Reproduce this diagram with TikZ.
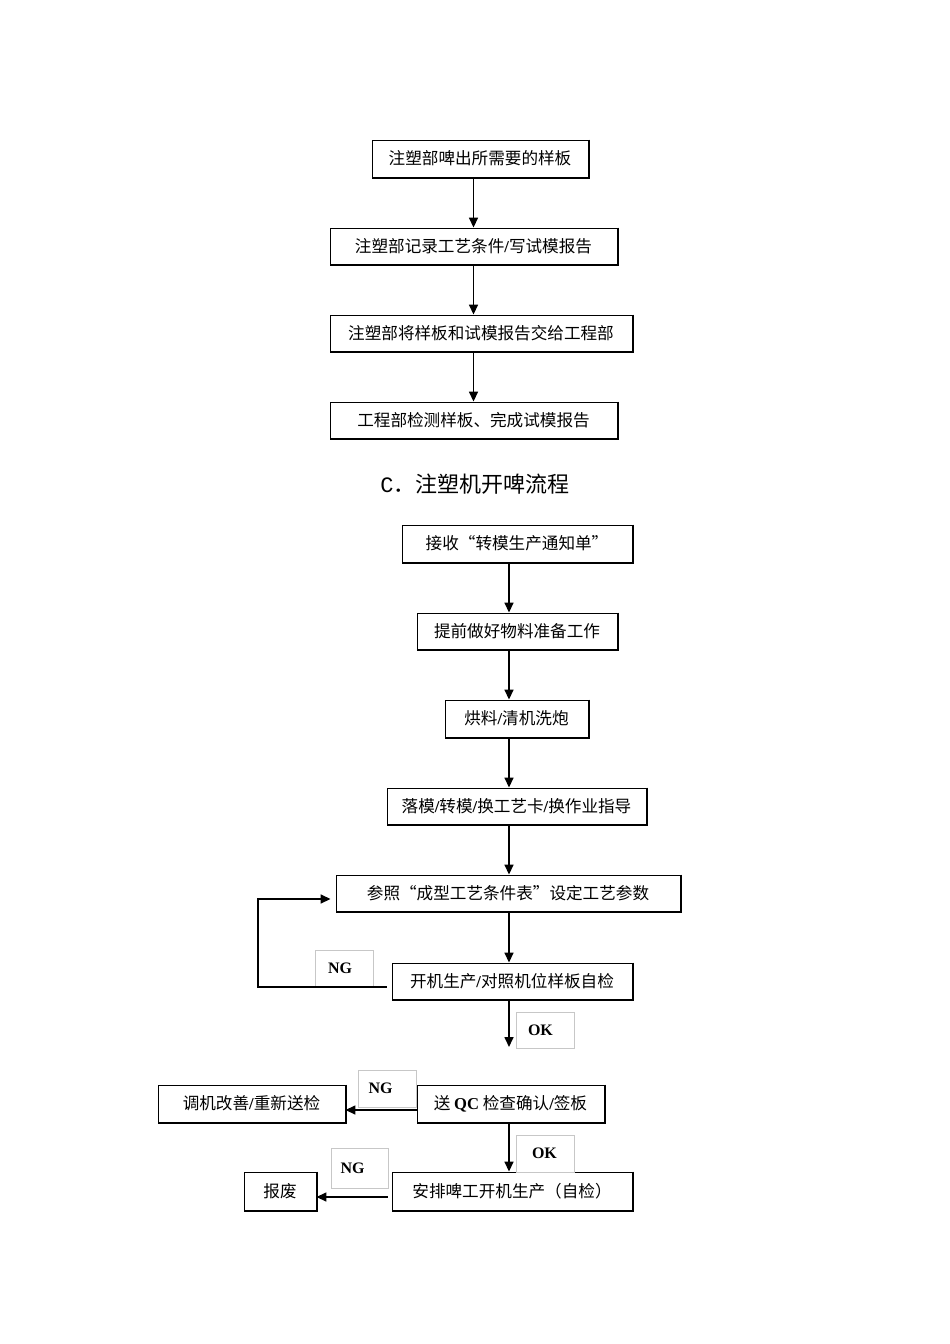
\documentclass[tikz,border=0pt]{standalone}
\usepackage{fontspec}
\setmainfont{Noto Sans CJK SC}
\newfontfamily\latb{Liberation Serif}[BoldFont={Liberation Serif Bold}]
\newfontfamily\monof{Liberation Mono}
\usetikzlibrary{arrows.meta,calc}
\newcommand\ssl{{\latb\bfseries /}}
\tikzset{
  box/.style={draw=black, line width=0.9pt, fill=white, inner sep=0pt, font=\fontsize{16.6}{18}\selectfont},
  lbl/.style={draw=black!22, line width=0.7pt, fill=white, inner sep=0pt, minimum width=58pt, font=\latb\bfseries\fontsize{16}{18}\selectfont},
  arr/.style={line width=1.6pt, -{Triangle[length=10pt,width=9pt]}},
  ln/.style={line width=1.6pt}
}
\begin{document}
\begin{tikzpicture}[x=1pt,y=-1pt]
\useasboundingbox (0,0) rectangle (950,1344);
% top section
\node[box, minimum width=216pt, minimum height=37pt] (b1) at (480,158.5) {注塑部啤出所需要的样板};
\node[box, minimum width=287pt, minimum height=36pt] (b2) at (473.5,246) {注塑部记录工艺条件\ssl 写试模报告};
\node[box, minimum width=302pt, minimum height=36pt] (b3) at (481,333) {注塑部将样板和试模报告交给工程部};
\node[box, minimum width=287pt, minimum height=36pt] (b4) at (473.5,420) {工程部检测样板、完成试模报告};
\draw[arr] (b1.south -| b2.center) -- (b2.north);
\draw[arr] (b2.south) -- (b3.north -| b2.center);
\draw[arr] (b3.south -| b4.center) -- (b4.north);
% title
\node[font=\fontsize{22}{24}\selectfont, inner sep=0pt] (t) at (475,484) {{\monof C}．注塑机开啤流程};
% second section
\coordinate (ax) at (509,0);
\node[box, minimum width=230pt, minimum height=37pt] (A) at (517,543.5) {接收“转模生产通知单”};
\node[box, minimum width=200pt, minimum height=36pt] (B) at (517,631) {提前做好物料准备工作};
\node[box, minimum width=143pt, minimum height=37pt] (C) at (516.5,718.5) {烘料\ssl 清机洗炮};
\node[box, minimum width=259pt, minimum height=36pt] (D) at (516.5,806) {落模\ssl 转模\ssl 换工艺卡\ssl 换作业指导};
\node[box, minimum width=344pt, minimum height=36pt] (E) at (508,893) {参照“成型工艺条件表”设定工艺参数};
\node[box, minimum width=240pt, minimum height=36pt] (F) at (512,981) {开机生产\ssl 对照机位样板自检};
\node[box, minimum width=187pt, minimum height=37pt] (G) at (510.5,1103.5) {送 {\latb\bfseries QC} 检查确认\ssl 签板};
\node[box, minimum width=187pt, minimum height=37pt] (H) at (251.5,1103.5) {调机改善\ssl 重新送检};
\node[box, minimum width=240pt, minimum height=38pt] (I) at (512,1191) {安排啤工开机生产（自检）};
\node[box, minimum width=72pt, minimum height=38pt] (J) at (280,1191) {报废};
% shadow edges
\foreach \n in {b1,b2,b3,b4,A,B,C,D,E,F,G,H,I,J}
  \draw[line width=1.6pt] ([xshift=0.4pt]\n.north east) -- ([xshift=0.4pt,yshift=-0.4pt]\n.south east) -- ([yshift=-0.4pt]\n.south west);
% labels
\node[lbl, minimum height=37pt, text width=50pt] (ng1) at (344,968.5) {\hspace*{9pt}NG};
\node[lbl, minimum height=36pt, text width=50pt] (ok1) at (545,1030) {\hspace*{8pt}OK};
\node[lbl, minimum height=37pt, text width=50pt] (ng2) at (387.5,1088.5) {\hspace*{6pt}NG};
\node[lbl, minimum height=37pt, text width=50pt] (ok2) at (545,1153.5) {\hspace*{12pt}OK};
\node[lbl, minimum width=57pt, minimum height=40pt, text width=50pt] (ng3) at (359.5,1168) {\hspace*{6pt}NG};
% vertical arrows
\draw[arr] (A.south -| ax) -- (B.north -| ax);
\draw[arr] (B.south -| ax) -- (C.north -| ax);
\draw[arr] (C.south -| ax) -- (D.north -| ax);
\draw[arr] (D.south -| ax) -- (E.north -| ax);
\draw[arr] (E.south -| ax) -- (F.north -| ax);
\coordinate (fend) at (509,1047);
\draw[arr] (F.south -| ax) -- (fend);
\draw[arr] (G.south -| ax) -- (I.north -| ax);
% NG feedback
\coordinate (fb) at (258,0);
\coordinate (Fw) at ([xshift=-5pt,yshift=-6pt]F.west);
\coordinate (Ew) at ([xshift=-5pt,yshift=-6pt]E.west);
\draw[arr] (Fw) -- (Fw -| fb) |- (Ew);
% side arrows
\draw[arr] ([yshift=-6.5pt]G.west) -- ([yshift=-6.5pt]H.east);
\draw[arr] ([xshift=-4pt,yshift=-6pt]I.west) -- ([yshift=-6pt]J.east);
\end{tikzpicture}
\end{document}
